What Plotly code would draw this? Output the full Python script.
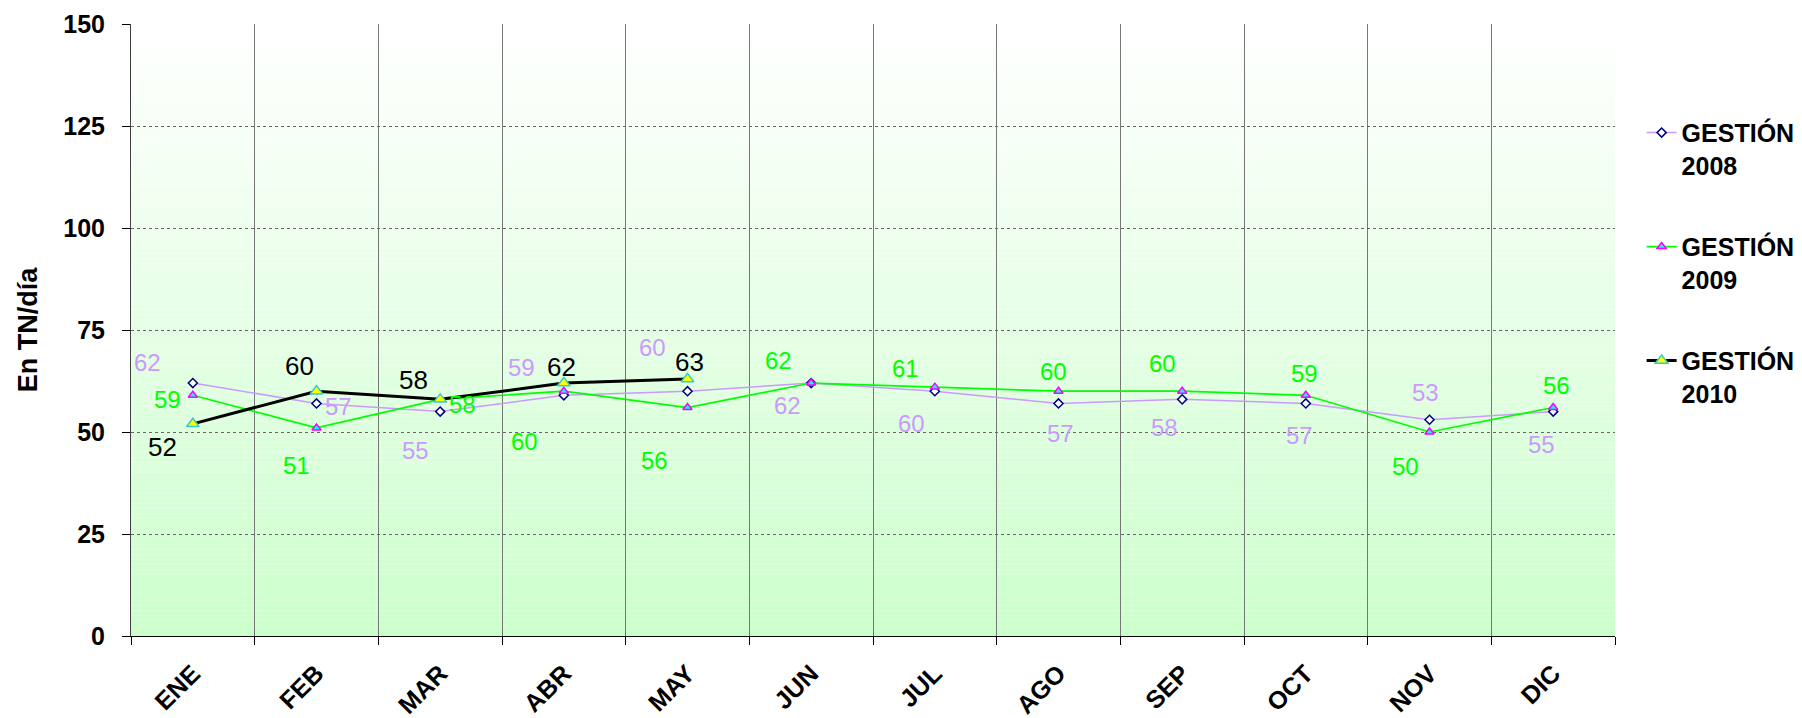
import plotly.graph_objects as go

# Monthly averages (TN/día) per management year
months = ["ENE", "FEB", "MAR", "ABR", "MAY", "JUN", "JUL", "AGO", "SEP", "OCT", "NOV", "DIC"]
g2008 = [62, 57, 55, 59, 60, 62, 60, 57, 58, 57, 53, 55]
g2009 = [59, 51, 58, 60, 56, 62, 61, 60, 60, 59, 50, 56]
g2010 = [52, 60, 58, 62, 63]
series_names = ["GESTIÓN<br>2008", "GESTIÓN<br>2009", "GESTIÓN<br>2010"]
y_ticks = [0, 25, 50, 75, 100, 125, 150]

# Label placement around each point, in pixels (dx right, dy down)
off2008 = [(-45, -21), (22, 3), (-25, 39), (-42, -28), (-35, -44), (-24, 22),
           (-23, 32), (2, 30), (-18, 28), (-6, 32), (-4, -27), (-12, 33)]
off2009 = [(-25, 4), (-20, 38), (22, 5), (-39, 50), (-33, 53), (-33, -23),
           (-29, -19), (-5, -20), (-20, -28), (-1, -22), (-24, 34), (3, -22)]
off2010 = [(-30, 23), (-17, -25), (-27, -19), (-2, -16), (2, -17)]

FONT = "Arial, Liberation Sans, sans-serif"
LAVENDER = "#CC99FF"
GREEN = "#00FF00"

fig = go.Figure()

fig.add_trace(go.Scatter(
    x=months, y=g2008, name=series_names[0], mode="lines+markers",
    line=dict(color=LAVENDER, width=1.5),
    marker=dict(symbol="diamond", size=7, color="white",
                line=dict(color="#000080", width=1.5)),
    legendgroup="a",
))
fig.add_trace(go.Scatter(
    x=months, y=g2009, name=series_names[1], mode="lines+markers",
    line=dict(color=GREEN, width=1.7),
    marker=dict(symbol="triangle-up", size=8, color="#00FFFF",
                line=dict(color="#FF00FF", width=1.5)),
    legendgroup="b",
))
fig.add_trace(go.Scatter(
    x=months[:len(g2010)], y=g2010, name=series_names[2], mode="lines+markers",
    line=dict(color="black", width=3),
    marker=dict(symbol="triangle-up", size=11, color="#FFFF00",
                line=dict(color="#33CCCC", width=1.5)),
    legendgroup="c",
))

# Value labels
for vals, offs, color, size in [(g2008, off2008, LAVENDER, 24),
                                (g2009, off2009, GREEN, 24),
                                (g2010, off2010, "black", 26)]:
    for m, v, (dx, dy) in zip(months, vals, offs):
        fig.add_annotation(x=m, y=v, text=str(v), showarrow=False,
                           xshift=dx, yshift=-dy,
                           font=dict(family=FONT, size=size, color=color))

# Vertical gradient background (white at top to pale green at bottom)
n_bands = 120
top = (255, 255, 255)
bottom = (204, 255, 204)
for i in range(n_bands):
    t = (i + 0.5) / n_bands
    c = tuple(round(bottom[k] + (top[k] - bottom[k]) * t) for k in range(3))
    fig.add_shape(type="rect", xref="x domain", yref="y domain",
                  x0=0, x1=1, y0=i / n_bands, y1=(i + 1) / n_bands,
                  fillcolor="rgb(%d,%d,%d)" % c, line=dict(width=0),
                  layer="below")

fig.update_layout(
    width=1802, height=718,
    margin=dict(l=131, r=187, t=24, b=82),
    paper_bgcolor="white", plot_bgcolor="white",
    font=dict(family=FONT, color="black"),
    showlegend=True,
    legend=dict(
        xref="container", yref="container",
        x=0.911, y=0.847, xanchor="left", yanchor="top",
        font=dict(family=FONT, size=25, color="black", weight="bold"),
        bgcolor="rgba(0,0,0,0)", tracegroupgap=46, valign="top",
        itemwidth=30,
    ),
    xaxis=dict(
        type="category", categoryorder="array", categoryarray=months,
        range=[-0.5, 11.5], tickson="boundaries", automargin=False,
        showgrid=True, gridcolor="#777777", gridwidth=1,
        showline=True, linecolor="black", linewidth=1,
        ticks="outside", ticklen=8, tickcolor="black",
        tickangle=-45, ticklabelstandoff=12,
        tickfont=dict(family=FONT, size=25, color="black", weight="bold"),
        zeroline=False,
    ),
    yaxis=dict(
        range=[0, 150], tickvals=y_ticks, automargin=False,
        showgrid=True, gridcolor="#666666", gridwidth=1, griddash="dot",
        showline=True, linecolor="#404040", linewidth=1,
        ticks="outside", ticklen=8, tickcolor="black",
        ticklabelstandoff=12,
        tickfont=dict(family=FONT, size=25, color="black", weight="bold"),
        title=dict(text="En TN/día", standoff=17,
                   font=dict(family=FONT, size=27, color="black", weight="bold")),
        zeroline=False,
    ),
)

fig.write_html("out.html")
